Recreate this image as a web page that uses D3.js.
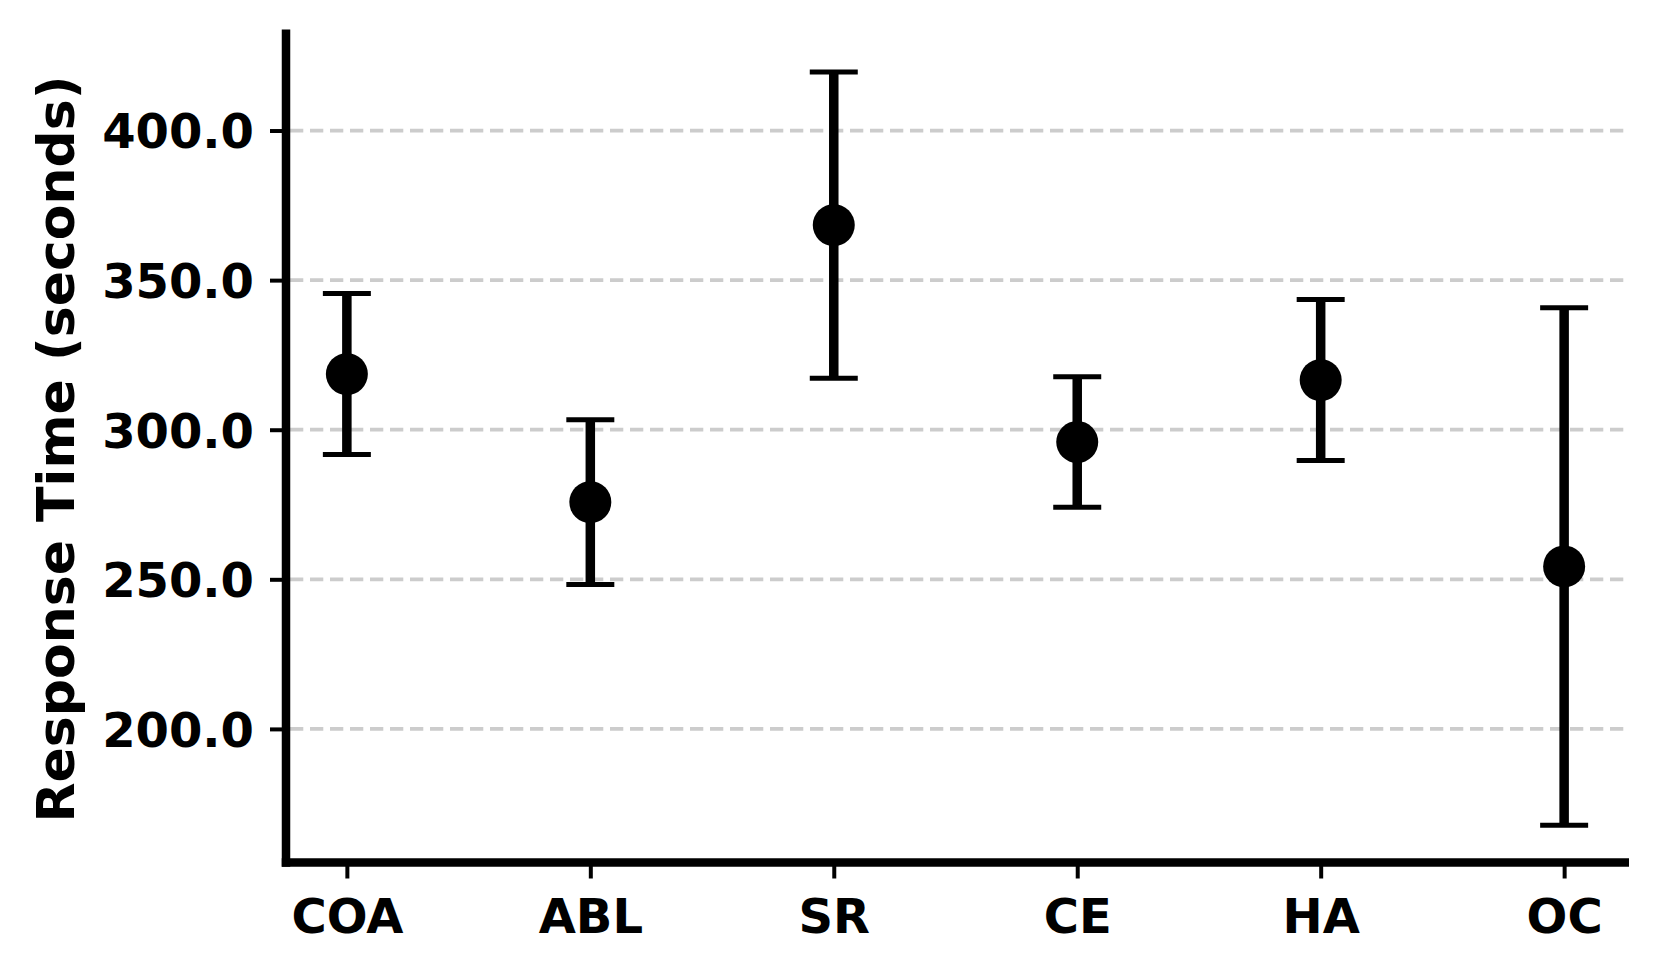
<!DOCTYPE html>
<html>
<head>
<meta charset="utf-8">
<script src="https://cdn.jsdelivr.net/npm/d3@7"></script>
<style>
  html, body { margin: 0; padding: 0; background: #ffffff; }
  svg { display: block; }
  text { font-family: "DejaVu Sans", sans-serif; font-weight: bold; fill: #000; }
</style>
</head>
<body>
<svg id="chart" width="1659" height="976"></svg>
<script>
// ---- data ----
const categories = ["COA", "ABL", "SR", "CE", "HA", "OC"];
const meanValues = [318.6, 275.8, 368.4, 295.9, 316.6, 254.3];
const errorValues = [26.9, 27.5, 51.2, 21.8, 26.9, 86.5];
const yTickValues = [200, 250, 300, 350, 400];
const yLabel = "Response Time (seconds)";

(function () {
  // ---- layout ----
  const plotLeft = 286, plotRight = 1625, plotTop = 30, plotBottom = 862.5;

  const svg = d3.select("#chart");

  const x = d3.scaleLinear().domain([-0.25, categories.length - 0.75]).range([plotLeft, plotRight]);
  const y = d3.scaleLinear().domain([155.35, 433.6]).range([plotBottom, plotTop]);

  // grid
  svg.append("g").selectAll("line").data(yTickValues).join("line")
    .attr("x1", plotLeft + 4).attr("x2", plotRight)
    .attr("y1", d => y(d)).attr("y2", d => y(d))
    .attr("stroke", "#cccccc").attr("stroke-width", 3.8)
    .attr("stroke-dasharray", "13.3 6.7");

  // y axis
  const yAxis = svg.append("g").attr("transform", `translate(${plotLeft},0)`)
    .call(d3.axisLeft(y).tickValues(yTickValues).tickFormat(d3.format(".1f")).tickSize(16).tickPadding(16));
  yAxis.select(".domain").remove();
  yAxis.selectAll(".tick line").attr("stroke", "#000").attr("stroke-width", 4);
  yAxis.selectAll(".tick text").attr("font-size", 48).attr("dy", "0.36em")
    .style("font-family", "'DejaVu Sans', sans-serif").style("font-weight", "bold").attr("fill", "#000");

  // x axis
  const xAxis = svg.append("g").attr("transform", `translate(0,${plotBottom})`)
    .call(d3.axisBottom(x).tickValues(d3.range(categories.length)).tickFormat(i => categories[i]).tickSize(16).tickPadding(0));
  xAxis.select(".domain").remove();
  xAxis.selectAll(".tick line").attr("stroke", "#000").attr("stroke-width", 4);
  xAxis.selectAll(".tick text").attr("font-size", 48).attr("y", 70).attr("dy", 0)
    .style("font-family", "'DejaVu Sans', sans-serif").style("font-weight", "bold").attr("fill", "#000");

  // spines
  svg.append("line").attr("x1", plotLeft).attr("x2", plotLeft).attr("y1", plotTop - 0.5).attr("y2", plotBottom + 4.25)
    .attr("stroke", "#000").attr("stroke-width", 8.5);
  svg.append("line").attr("x1", plotLeft - 4.25).attr("x2", plotRight + 4).attr("y1", plotBottom).attr("y2", plotBottom)
    .attr("stroke", "#000").attr("stroke-width", 8.5);

  // error bars
  const g = svg.append("g");
  const idx = d3.range(categories.length);
  g.selectAll("line.err").data(idx).join("line").attr("class", "err")
    .attr("x1", i => x(i)).attr("x2", i => x(i))
    .attr("y1", i => y(meanValues[i] - errorValues[i]))
    .attr("y2", i => y(meanValues[i] + errorValues[i]))
    .attr("stroke", "#000").attr("stroke-width", 9.5);
  g.selectAll("line.capTop").data(idx).join("line").attr("class", "capTop")
    .attr("x1", i => x(i) - 24).attr("x2", i => x(i) + 24)
    .attr("y1", i => y(meanValues[i] + errorValues[i]))
    .attr("y2", i => y(meanValues[i] + errorValues[i]))
    .attr("stroke", "#000").attr("stroke-width", 5);
  g.selectAll("line.capBot").data(idx).join("line").attr("class", "capBot")
    .attr("x1", i => x(i) - 24).attr("x2", i => x(i) + 24)
    .attr("y1", i => y(meanValues[i] - errorValues[i]))
    .attr("y2", i => y(meanValues[i] - errorValues[i]))
    .attr("stroke", "#000").attr("stroke-width", 5);
  g.selectAll("circle").data(idx).join("circle")
    .attr("cx", i => x(i)).attr("cy", i => y(meanValues[i])).attr("r", 21)
    .attr("fill", "#000");

  // y label
  svg.append("text")
    .attr("transform", "translate(74,449) rotate(-90)")
    .attr("text-anchor", "middle")
    .attr("font-size", 52)
    .text(yLabel);
})();
</script>
</body>
</html>
